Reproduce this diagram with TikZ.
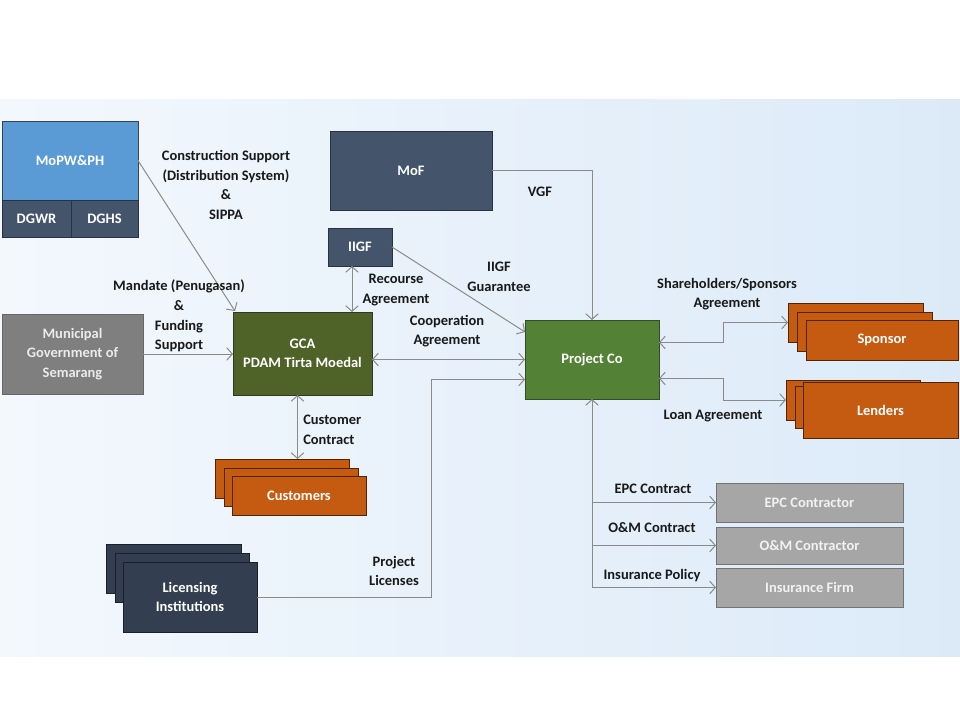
\documentclass[tikz,border=0pt]{standalone}
\usepackage{fontspec}
\setmainfont{Carlito}
\usetikzlibrary{arrows.meta,calc}
\definecolor{lblue}{HTML}{5B9BD5}
\definecolor{slate}{HTML}{44546A}
\definecolor{navy}{HTML}{333F50}
\definecolor{mgray}{HTML}{7F7F7F}
\definecolor{olive}{HTML}{4F6228}
\definecolor{pgreen}{HTML}{538135}
\definecolor{orng}{HTML}{C55A11}
\definecolor{lgray}{HTML}{A6A6A6}
\definecolor{conncol}{HTML}{8A8A8A}
\definecolor{bgleft}{HTML}{F3F8FD}
\definecolor{bgright}{HTML}{DCEAF8}
\newcommand{\bx}[7]{\node[#1, minimum width={(#4-#2)*0.025cm}, minimum height={(#5-#3)*0.025cm}] (#6) at ({(#2+#4)/2},{(#3+#5)/2}) {#7};}
\tikzset{
  txt/.style={font=\bfseries\fontsize{10.3}{13.9}\selectfont, align=center},
  boxbase/.style={txt, inner sep=0pt, outer sep=0pt, text=white, line width=0.7pt},
  bluebox/.style={boxbase, fill=lblue, draw=slate!80!black},
  slatebox/.style={boxbase, fill=slate, draw=slate!60!black},
  navybox/.style={boxbase, fill=navy, draw=navy!50!black},
  graybox/.style={boxbase, fill=mgray, draw=mgray!80!black, text=white!92!black},
  olivebox/.style={boxbase, fill=olive, draw=olive!60!black},
  greenbox/.style={boxbase, fill=pgreen, draw=pgreen!60!black},
  orangebox/.style={boxbase, fill=orng, draw=orng!40!black},
  lgraybox/.style={boxbase, fill=lgray, draw=black!55, text=white!95!black},
  lbl/.style={txt, text=black!90, inner sep=0pt},
  conn/.style={draw=conncol, line width=0.7pt},
  tip/.style={-{Straight Barb[length=4pt,width=9pt]}},
  tips/.style={{Straight Barb[length=4pt,width=9pt]}-{Straight Barb[length=4pt,width=9pt]}}
}
\begin{document}
\begin{tikzpicture}[x=0.025cm,y=-0.025cm]
\useasboundingbox (0,0) rectangle (960,720);
\fill[white] (0,0) rectangle (960,720);
\shade[left color=bgleft, right color=bgright] (0,100) rectangle (960,656);

% boxes
\bx{bluebox}{2}{121}{138}{200}{mopw}{MoPW\&PH}
\bx{slatebox}{2}{200}{71}{237}{dgwr}{DGWR}
\bx{slatebox}{71}{200}{138}{237}{dghs}{DGHS}
\bx{slatebox}{330}{131}{492}{210}{mof}{MoF}
\bx{slatebox}{328}{228}{392}{266}{iigf}{IIGF}
\bx{graybox}{2}{314}{143}{394}{muni}{Municipal\\Government of\\Semarang}
\bx{olivebox}{233}{312}{372}{395}{gca}{GCA\\PDAM Tirta Moedal}
\bx{greenbox}{525}{320}{659}{399}{proj}{Project Co}

\bx{orangebox}{788}{303}{923}{342}{sp1}{}
\bx{orangebox}{797}{312}{932}{351}{sp2}{}
\bx{orangebox}{806}{320}{958}{360}{sp3}{Sponsor}

\bx{orangebox}{786}{380}{920}{420}{ln1}{}
\bx{orangebox}{795}{386}{929}{428}{ln2}{}
\bx{orangebox}{803}{382}{958}{438}{ln3}{Lenders}

\bx{orangebox}{215}{459}{349}{498}{cu1}{}
\bx{orangebox}{224}{468}{358}{506}{cu2}{}
\bx{orangebox}{232}{476}{366}{515}{cu3}{Customers}

\bx{navybox}{106}{544}{241}{593}{li1}{}
\bx{navybox}{115}{553}{249}{602}{li2}{}
\bx{navybox}{123}{562}{257}{632}{li3}{Licensing\\Institutions}

\bx{lgraybox}{716}{483}{903}{522}{epc}{EPC Contractor}
\bx{lgraybox}{716}{527}{903}{564}{om}{O\&M Contractor}
\bx{lgraybox}{716}{568}{903}{607}{ins}{Insurance Firm}

% connectors
\draw[conn,tip] (mopw.east) -- ($(gca.north west)+(2,-1)$);
\draw[conn,tip] (muni.east) -- (muni.east -| gca.west);
\coordinate (ia) at ($(iigf.south west)+(24,0)$);
\draw[conn,tips] (ia) -- (ia |- gca.north);
\draw[conn,tip] (iigf.east) -- ($(proj.north west)+(0,12)$);
\draw[conn,tip] (mof.east) -| (proj.north);
\draw[conn,tips] (proj.west -| gca.east) -- (proj.west);
\draw[conn,tip] (li3.east) -| ($(proj.west)+(-94,20)$) -- ($(proj.west)+(0,20)$);
\draw[conn,tips] ($(proj.east)+(0,-17)$) -- ++(64,0) |- (sp1.west);
\draw[conn,tips] ($(proj.east)+(0,19)$) -- ++(64,0) |- (ln1.west);
\coordinate (ca) at ($(gca.south)+(-5,0)$);
\draw[conn,tips] (ca) -- (ca |- cu1.north);
\draw[conn,tip] (proj.south |- ins.west) -- (proj.south);
\draw[conn,tip] (proj.south |- epc.west) -- (epc.west);
\draw[conn,tip] (proj.south |- om.west) -- (om.west);
\draw[conn,tip] (proj.south |- ins.west) -- (ins.west);

% labels
\node[lbl] (l1) at (226,185) {Construction Support\\(Distribution System)\\\&\\SIPPA};
\node[lbl] (l2) at (179,316) {Mandate (Penugasan)\\\&\\Funding\\Support};
\node[lbl] (l3) at (396,290) {Recourse\\Agreement};
\node[lbl] (l4) at (499,277) {IIGF\\Guarantee};
\node[lbl] (l5) at (447,331) {Cooperation\\Agreement};
\node[lbl] (l6) at (540,192) {VGF};
\node[lbl] (l7) at (727,294) {Shareholders/Sponsors\\Agreement};
\node[lbl] (l8) at (713,416) {Loan Agreement};
\node[lbl, align=left, anchor=west] (l9) at (303,430) {Customer\\Contract};
\node[lbl] (l10) at (394,571) {Project\\Licenses};
\node[lbl] (l11) at (653,489) {EPC Contract};
\node[lbl] (l12) at (652,528) {O\&M Contract};
\node[lbl] (l13) at (652,576) {Insurance Policy};
\end{tikzpicture}
\end{document}
